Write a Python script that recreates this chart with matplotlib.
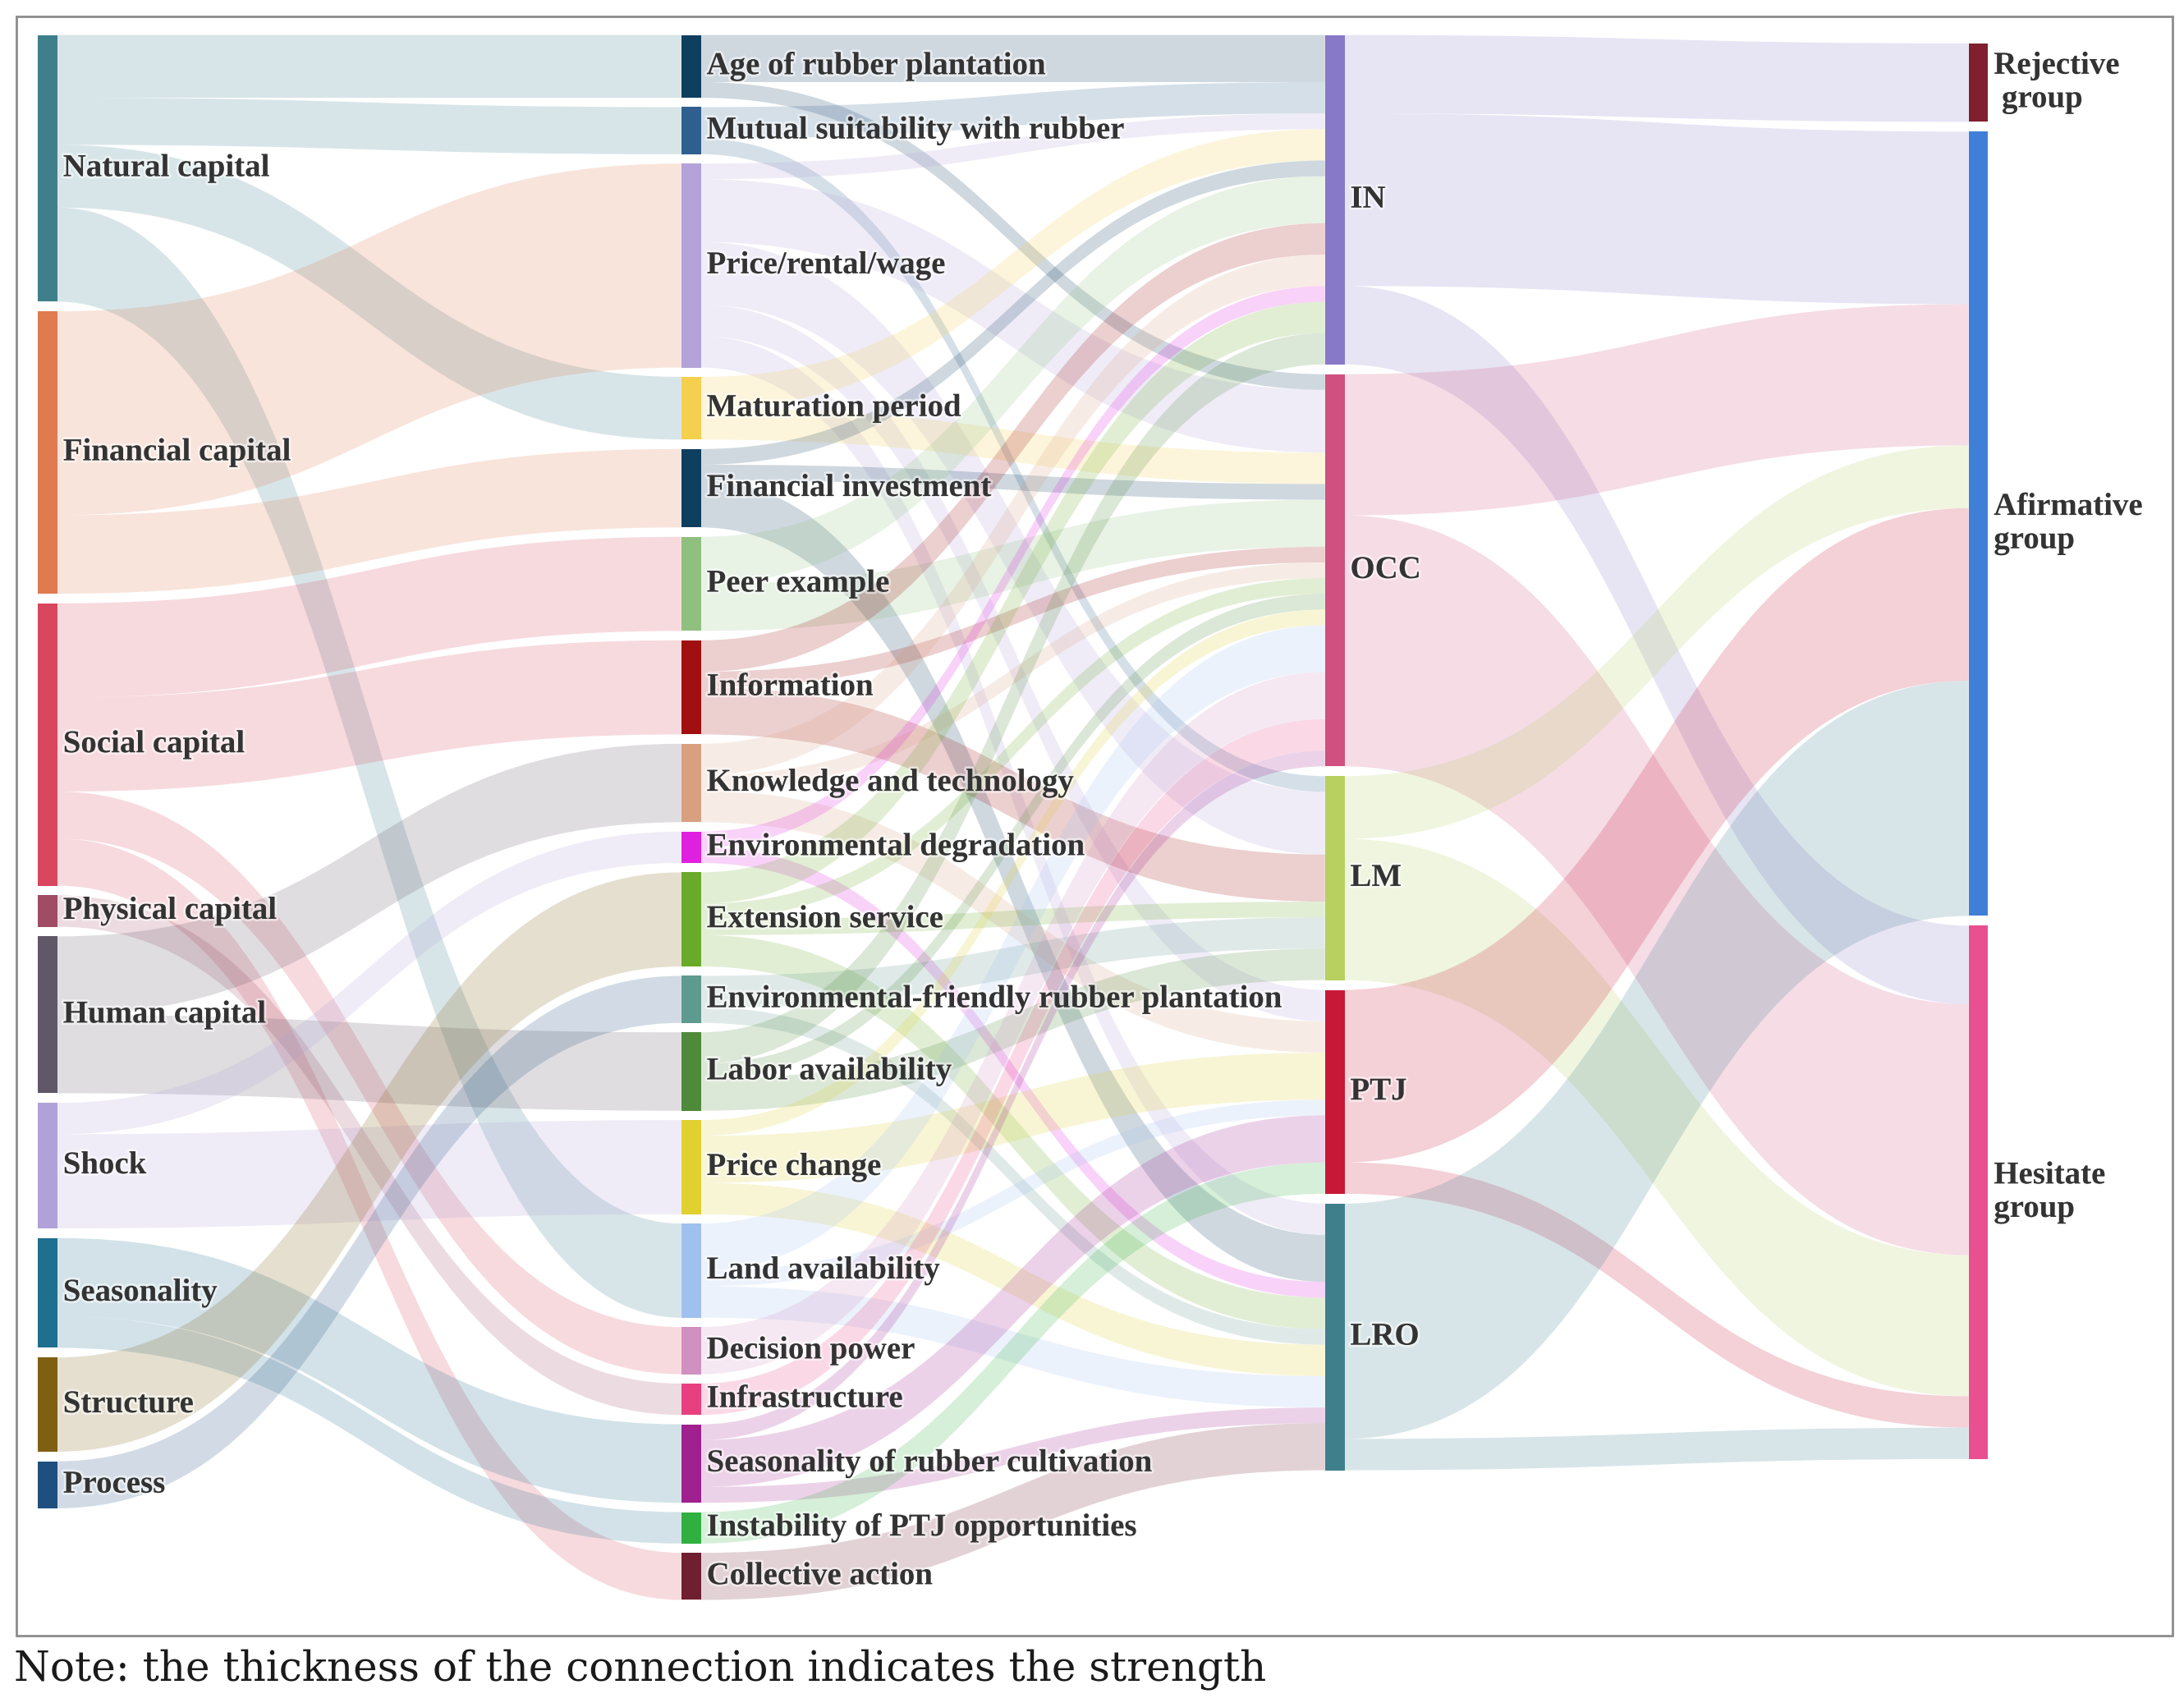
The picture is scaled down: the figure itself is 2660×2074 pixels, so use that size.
import matplotlib.pyplot as plt
from matplotlib.path import Path
from matplotlib.patches import PathPatch, Rectangle
import matplotlib.patheffects as pe

# ---- data -------------------------------------------------------------
capitals = ["Natural capital", "Financial capital", "Social capital", "Physical capital",
            "Human capital", "Shock", "Seasonality", "Structure", "Process"]
factors = ["Age of rubber plantation", "Mutual suitability with rubber", "Price/rental/wage",
           "Maturation period", "Financial investment", "Peer example", "Information",
           "Knowledge and technology", "Environmental degradation", "Extension service",
           "Environmental-friendly rubber plantation", "Labor availability", "Price change",
           "Land availability", "Decision power", "Infrastructure",
           "Seasonality of rubber cultivation", "Instability of PTJ opportunities",
           "Collective action"]
strategies = ["IN", "OCC", "LM", "PTJ", "LRO"]
groups = ["Rejective group", "Afirmative group", "Hesitate group"]
group_labels = ["Rejective\n group", "Afirmative\ngroup", "Hesitate\ngroup"]

capital_links = [
    ("Natural capital", "Age of rubber plantation", 4),
    ("Natural capital", "Mutual suitability with rubber", 3),
    ("Natural capital", "Maturation period", 4),
    ("Natural capital", "Land availability", 6),
    ("Financial capital", "Price/rental/wage", 13),
    ("Financial capital", "Financial investment", 5),
    ("Social capital", "Peer example", 6),
    ("Social capital", "Information", 6),
    ("Social capital", "Decision power", 3),
    ("Social capital", "Collective action", 3),
    ("Physical capital", "Infrastructure", 2),
    ("Human capital", "Knowledge and technology", 5),
    ("Human capital", "Labor availability", 5),
    ("Shock", "Environmental degradation", 2),
    ("Shock", "Price change", 6),
    ("Seasonality", "Seasonality of rubber cultivation", 5),
    ("Seasonality", "Instability of PTJ opportunities", 2),
    ("Structure", "Extension service", 6),
    ("Process", "Environmental-friendly rubber plantation", 3),
]

factor_links = [
    ("Age of rubber plantation", "IN", 3), ("Age of rubber plantation", "OCC", 1),
    ("Mutual suitability with rubber", "IN", 2), ("Mutual suitability with rubber", "LM", 1),
    ("Price/rental/wage", "IN", 1), ("Price/rental/wage", "OCC", 4),
    ("Price/rental/wage", "LM", 4), ("Price/rental/wage", "PTJ", 2),
    ("Price/rental/wage", "LRO", 2),
    ("Maturation period", "IN", 2), ("Maturation period", "OCC", 2),
    ("Financial investment", "IN", 1), ("Financial investment", "OCC", 1),
    ("Financial investment", "LRO", 3),
    ("Peer example", "IN", 3), ("Peer example", "OCC", 3),
    ("Information", "IN", 2), ("Information", "OCC", 1), ("Information", "LM", 3),
    ("Knowledge and technology", "IN", 2), ("Knowledge and technology", "OCC", 1),
    ("Knowledge and technology", "PTJ", 2),
    ("Environmental degradation", "IN", 1), ("Environmental degradation", "LRO", 1),
    ("Extension service", "IN", 2), ("Extension service", "OCC", 1),
    ("Extension service", "LM", 1), ("Extension service", "LRO", 2),
    ("Environmental-friendly rubber plantation", "LM", 2),
    ("Environmental-friendly rubber plantation", "LRO", 1),
    ("Labor availability", "IN", 2), ("Labor availability", "OCC", 1),
    ("Labor availability", "LM", 2),
    ("Price change", "OCC", 1), ("Price change", "PTJ", 3), ("Price change", "LRO", 2),
    ("Land availability", "OCC", 3), ("Land availability", "PTJ", 1),
    ("Land availability", "LRO", 2),
    ("Decision power", "OCC", 3),
    ("Infrastructure", "OCC", 2),
    ("Seasonality of rubber cultivation", "OCC", 1),
    ("Seasonality of rubber cultivation", "PTJ", 3),
    ("Seasonality of rubber cultivation", "LRO", 1),
    ("Instability of PTJ opportunities", "PTJ", 2),
    ("Collective action", "LRO", 3),
]

strategy_links = [
    ("IN", "Rejective group", 5), ("IN", "Afirmative group", 11), ("IN", "Hesitate group", 5),
    ("OCC", "Afirmative group", 9), ("OCC", "Hesitate group", 16),
    ("LM", "Afirmative group", 4), ("LM", "Hesitate group", 9),
    ("PTJ", "Afirmative group", 11), ("PTJ", "Hesitate group", 2),
    ("LRO", "Afirmative group", 15), ("LRO", "Hesitate group", 2),
]

note = "Note: the thickness of the connection indicates the strength"

# ---- styling ----------------------------------------------------------
node_colors = {
    "Natural capital": "#3f7f8c", "Financial capital": "#e07b4f", "Social capital": "#d9475e",
    "Physical capital": "#a04c64", "Human capital": "#605868", "Shock": "#b0a2d8",
    "Seasonality": "#1f6f8f", "Structure": "#7f5f12", "Process": "#1f4f7f",
    "Age of rubber plantation": "#0f3f5f", "Mutual suitability with rubber": "#2f5f8f",
    "Price/rental/wage": "#b3a3d9", "Maturation period": "#f5d04f",
    "Financial investment": "#0f3f5f", "Peer example": "#8fc07f", "Information": "#a01010",
    "Knowledge and technology": "#d9a080", "Environmental degradation": "#e020e0",
    "Extension service": "#6aaa2a", "Environmental-friendly rubber plantation": "#5f9a8f",
    "Labor availability": "#4f8a3a", "Price change": "#e0d030", "Land availability": "#a0c0f0",
    "Decision power": "#d090c0", "Infrastructure": "#e8407f",
    "Seasonality of rubber cultivation": "#a02090", "Instability of PTJ opportunities": "#30b040",
    "Collective action": "#6f1f2f",
    "IN": "#8878c8", "OCC": "#d05080", "LM": "#b8d060", "PTJ": "#c81838", "LRO": "#3f7f8c",
    "Rejective group": "#7f1f2f", "Afirmative group": "#3f7fd8", "Hesitate group": "#e8508f",
}

UNIT = 11.2      # px per unit of value
NODE_W = 14
col_x = [27 + i * 459.7 for i in range(4)]
col_top = [25, 25, 25, 31]
col_gap = [6.9, 6.7, 7.0, 7.0]
columns = [capitals, factors, strategies, groups]
links = capital_links + factor_links + strategy_links

# ---- layout -----------------------------------------------------------
inflow, outflow = {}, {}
for s, t, v in links:
    outflow[s] = outflow.get(s, 0) + v
    inflow[t] = inflow.get(t, 0) + v

pos = {}
for ci, col in enumerate(columns):
    y = col_top[ci]
    for name in col:
        h = max(inflow.get(name, 0), outflow.get(name, 0)) * UNIT
        pos[name] = (col_x[ci], y, y + h)
        y += h + col_gap[ci]


def center(n):
    return (pos[n][1] + pos[n][2]) / 2


out_off = {n: pos[n][1] for n in pos}
in_off = {n: pos[n][1] for n in pos}
link_geo = {}
for n in pos:
    for lk in sorted([l for l in links if l[0] == n], key=lambda l: center(l[1])):
        link_geo.setdefault(lk, {})["s"] = out_off[n]
        out_off[n] += lk[2] * UNIT
    for lk in sorted([l for l in links if l[1] == n], key=lambda l: center(l[0])):
        link_geo.setdefault(lk, {})["t"] = in_off[n]
        in_off[n] += lk[2] * UNIT

# ---- drawing ----------------------------------------------------------
fig = plt.figure(figsize=(26.6, 20.74), dpi=100)
ax = fig.add_axes([0, 0, 1, 1])
ax.set_xlim(0, 1560)
ax.set_ylim(1216, 0)
ax.axis("off")

for lk in links:
    s, t, v = lk
    x0 = pos[s][0] + NODE_W
    x1 = pos[t][0]
    xm = (x0 + x1) / 2
    ys, yt = link_geo[lk]["s"], link_geo[lk]["t"]
    h = v * UNIT
    verts = [(x0, ys), (xm, ys), (xm, yt), (x1, yt),
             (x1, yt + h), (xm, yt + h), (xm, ys + h), (x0, ys + h), (x0, ys)]
    codes = [Path.MOVETO, Path.CURVE4, Path.CURVE4, Path.CURVE4,
             Path.LINETO, Path.CURVE4, Path.CURVE4, Path.CURVE4, Path.CLOSEPOLY]
    ax.add_patch(PathPatch(Path(verts, codes), facecolor=node_colors[s],
                           edgecolor="none", alpha=0.2, zorder=1))

halo = [pe.withStroke(linewidth=4, foreground="white", alpha=0.5)]
for ci, col in enumerate(columns):
    for i, name in enumerate(col):
        x, y0, y1 = pos[name]
        ax.add_patch(Rectangle((x, y0), NODE_W, y1 - y0, facecolor=node_colors[name],
                               edgecolor="none", zorder=2))
        label = group_labels[i] if ci == 3 else name
        ax.text(x + NODE_W + 4, (y0 + y1) / 2, label, ha="left", va="center",
                fontsize=28, fontweight="bold", family="Liberation Serif",
                color="#333333", linespacing=1.13, zorder=3, path_effects=halo)

ax.add_patch(Rectangle((12, 12), 1540, 1156, fill=False, edgecolor="#8c8c8c",
                       linewidth=2, zorder=4))
ax.text(10, 1192, note, ha="left", va="center", fontsize=36, family="DejaVu Serif",
        color="#1a1a1a")

fig.savefig("out.png", dpi=100)
